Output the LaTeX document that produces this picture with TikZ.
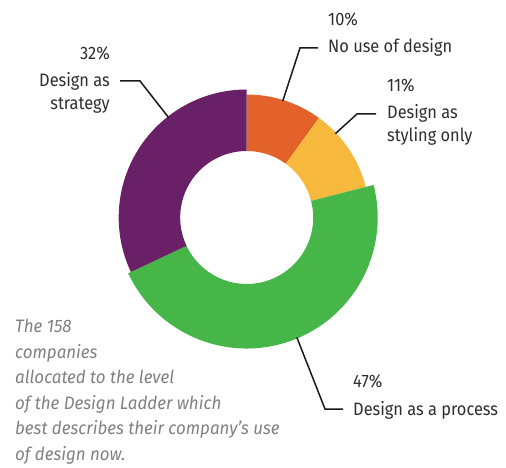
\documentclass[tikz,border=0pt]{standalone}
\usepackage{fontspec}
\setmainfont[FakeStretch=0.91]{Fira Sans}
\newfontfamily\notefont[FakeStretch=0.94]{Fira Sans}
\usetikzlibrary{calc}
\definecolor{segorange}{HTML}{E2622A}
\definecolor{segyellow}{HTML}{F6B93D}
\definecolor{seggreen}{HTML}{46B649}
\definecolor{segpurple}{HTML}{6A2066}
\definecolor{labelgray}{HTML}{2E2E2E}
\definecolor{notegray}{HTML}{808080}
\def\ringpart[#1](#2:#3:#4){\fill[#1] (#2:#4pt) arc (#2:#3:#4pt) -- (#3:66.5pt) arc (#3:#2:66.5pt) -- cycle;}

\begin{document}
\begin{tikzpicture}[x=1pt, y=-1pt,
  lbl/.style={inner sep=0, text=labelgray, font=\fontsize{18}{23}\selectfont},
  leader/.style={line width=1.5pt, color=black!90}]
			%%%%% RING %%%%%
			\useasboundingbox (0,0) rectangle (506,468);
			
			\begin{scope}[shift={(246.7,217.5)}]
			\ringpart[segorange](54:90:123)
			\ringpart[segyellow](14.4:54:123)
			\ringpart[seggreen](-154.8:14.4:131)
			\ringpart[segpurple](90:205.2:128)
			
			\coordinate (cpurple) at (128:127pt);
			\coordinate (corange) at (72.8:122pt);
			\coordinate (cyellow) at (43.4:122pt);
			\coordinate (cgreen) at (-67.3:130pt);
			\end{scope}
			
			%%%%% LABELS %%%%%
			% two-line nodes sit on the baseline of their last line
			\node[lbl, anchor=base east] (p32) at (110, 60) {32\%};
			\node[lbl, anchor=base east, align=right] (l32) at (110, 110) {Design as\\strategy};
			
			\node[lbl, anchor=base west] (p10) at (328, 26) {10\%};
			\node[lbl, anchor=base west] (l10) at (328, 53) {No use of design};
			
			\node[lbl, anchor=base west] (p11) at (387, 92) {11\%};
			\node[lbl, anchor=base west, align=left] (l11) at (387, 142) {Design as\\styling only};
			
			\node[lbl, anchor=base west] (p47) at (353, 387) {47\%};
			\node[lbl, anchor=base west] (l47) at (353, 415) {Design as a process};
			
			\node[inner sep=0, anchor=base west, align=left, text=notegray,
			  font=\notefont\fontsize{18}{25.5}\selectfont\itshape] (note) at (15, 460)
			  {The 158\\companies\\allocated to the level\\of the Design Ladder which\\best describes their company’s use\\of design now.};
			
			%%%%% LEADERS %%%%%
			\draw[leader] ($(l32.base east)+(10,-29)$) -- ++(20,0) -- (cpurple);
			\draw[leader] ($(l10.base west)+(-10,-5)$) -- ++(-18,0) -- (corange);
			\draw[leader] ($(l11.base west)+(-11,-28)$) -- ++(-19,0) -- (cyellow);
			\draw[leader] ($(l47.base west)+(-10,-6)$) -- ++(-18,0) -- (cgreen);
			
\end{tikzpicture}
\end{document}
